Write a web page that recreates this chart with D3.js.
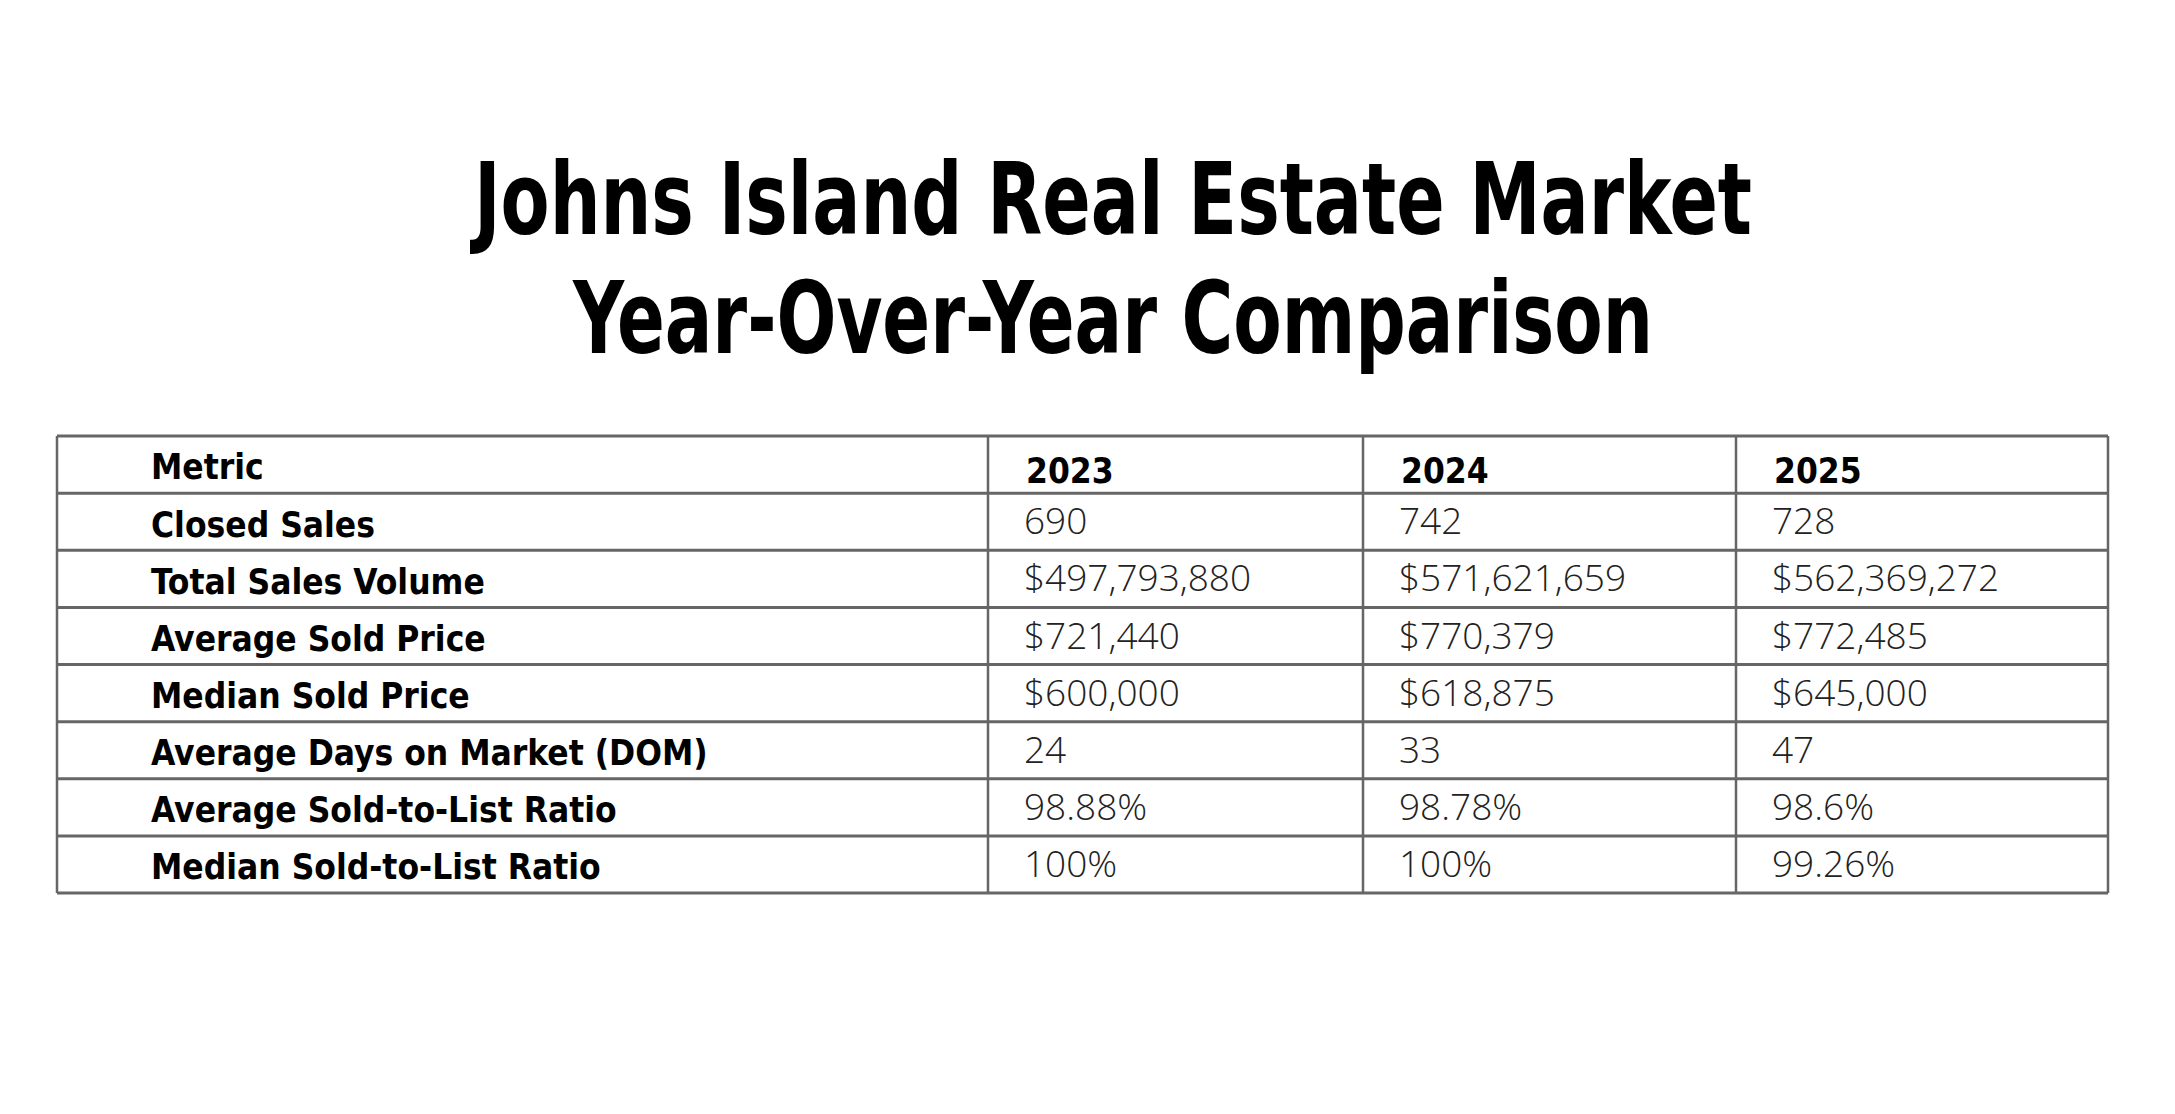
<!DOCTYPE html>
<html>
<head>
  <script src="https://d3js.org/d3.v7.min.js"></script>
  <style>
    body { margin: 0; background: #fff; }
    .title { font-family: "DejaVu Sans Condensed", "DejaVu Sans"; font-weight: bold; font-size: 100px; fill: #000; }
    .label { font-family: "DejaVu Sans Condensed", "DejaVu Sans"; font-weight: bold; font-size: 35px; fill: #000; }
    .val { font-family: "Open Sans"; font-weight: 300; font-size: 37px; fill: #222; }
  </style>
</head>
<body>
  <script>
    const width = 2175;
    const height = 1114;

    const titleLines = ["Johns Island Real Estate Market", "Year-Over-Year Comparison"];
    const years = ["2023", "2024", "2025"];
    const metrics = ["Closed Sales", "Total Sales Volume", "Average Sold Price", "Median Sold Price",
      "Average Days on Market (DOM)", "Average Sold-to-List Ratio", "Median Sold-to-List Ratio"];
    const values2023 = ["690", "$497,793,880", "$721,440", "$600,000", "24", "98.88%", "100%"];
    const values2024 = ["742", "$571,621,659", "$770,379", "$618,875", "33", "98.78%", "100%"];
    const values2025 = ["728", "$562,369,272", "$772,485", "$645,000", "47", "98.6%", "99.26%"];
    const series = [values2023, values2024, values2025];

    const svg = d3.select("body").append("svg")
      .attr("width", width).attr("height", height);

    // title
    svg.selectAll("text.title").data(titleLines).enter().append("text")
      .attr("class", "title")
      .attr("x", 1113)
      .attr("y", (d, i) => 234 + i * 119)
      .attr("text-anchor", "middle")
      .attr("textLength", (d, i) => i === 0 ? 1278 : 1080)
      .attr("lengthAdjust", "spacingAndGlyphs")
      .text(d => d);

    // table layout
    const rows = ["Metric"].concat(metrics);
    const y = d3.scaleBand().domain(d3.range(rows.length)).range([436, 893]);
    const colEdges = [57, 988, 1363, 1736, 2108];
    const g = svg.append("g");

    g.selectAll("line.h").data(d3.range(rows.length + 1)).enter().append("line")
      .attr("x1", colEdges[0]).attr("x2", colEdges[4])
      .attr("y1", i => 436 + i * y.bandwidth()).attr("y2", i => 436 + i * y.bandwidth())
      .attr("stroke", "#666").attr("stroke-width", 3);
    g.selectAll("line.v").data(colEdges).enter().append("line")
      .attr("x1", d => d).attr("x2", d => d)
      .attr("y1", 436).attr("y2", 893)
      .attr("stroke", "#666").attr("stroke-width", 2.5);

    g.selectAll("text.label").data(rows).enter().append("text")
      .attr("class", "label")
      .attr("x", 151)
      .attr("y", (d, i) => y(i) + y.bandwidth() * 0.76)
      .text(d => d);

    g.selectAll("text.year").data(years).enter().append("text")
      .attr("class", "label")
      .attr("x", (d, i) => colEdges[i + 1] + 38)
      .attr("y", y(0) + y.bandwidth() * 0.82)
      .text(d => d);

    series.forEach((vals, c) => {
      g.selectAll("text.v" + c).data(vals).enter().append("text")
        .attr("class", "val")
        .attr("x", colEdges[c + 1] + 36)
        .attr("y", (d, i) => y(i + 1) + y.bandwidth() * 0.72)
        .text(d => d);
    });
  </script>
</body>
</html>
